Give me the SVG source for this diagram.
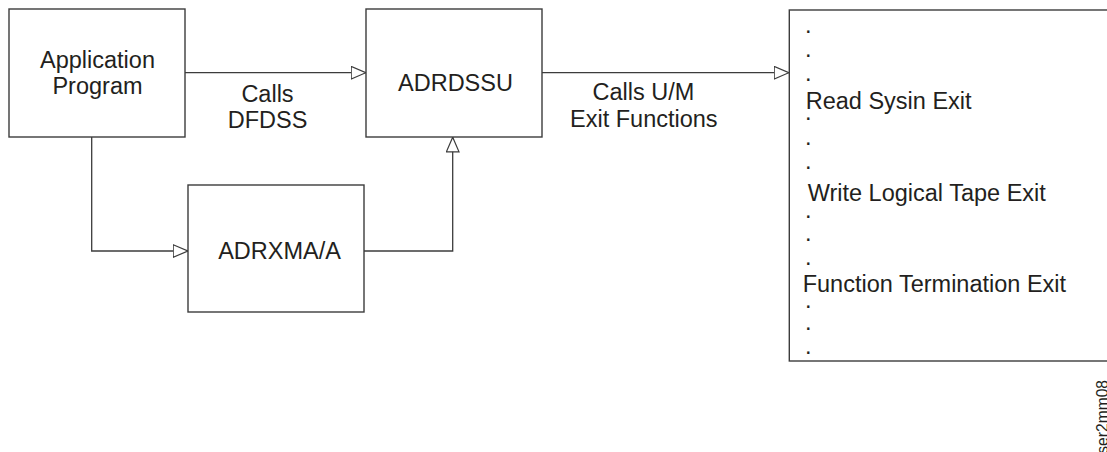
<svg xmlns="http://www.w3.org/2000/svg" width="1107" height="452" viewBox="0 0 1107 452">
<style>
  .box { fill: #ffffff; stroke: #3c3c3c; stroke-width: 1.4; }
  .conn { fill: none; stroke: #3c3c3c; stroke-width: 1.3; }
  .t { font-family: "Liberation Sans", Arial, sans-serif; font-size: 23.5px; fill: #231f20; }
  .c { text-anchor: middle; }
  .id { font-family: "Liberation Sans", Arial, sans-serif; font-size: 15.6px; fill: #231f20; }
</style>
<defs>
  <marker id="open" viewBox="0 0 16 14" refX="15.5" refY="7" markerWidth="16" markerHeight="14" markerUnits="userSpaceOnUse" orient="auto">
    <path d="M0.7,0.7 L15.3,7 L0.7,13.3 Z" fill="#ffffff" stroke="#3c3c3c" stroke-width="1.2"/>
  </marker>
</defs>
<rect width="1107" height="452" fill="#ffffff"/>

<g id="connectors">
  <path class="conn" d="M185,72.7 H366" marker-end="url(#open)"/>
  <path class="conn" d="M542,72.7 H789" marker-end="url(#open)"/>
  <path class="conn" d="M91.7,137 V251 H188" marker-end="url(#open)"/>
  <path class="conn" d="M364,251 H452.7 V137" marker-end="url(#open)"/>
  <text class="t c" x="267.5" y="101.7">Calls</text>
  <text class="t c" x="267.5" y="127.7">DFDSS</text>
  <text class="t c" x="643.5" y="100">Calls U/M</text>
  <text class="t c" x="643.8" y="126.7">Exit Functions</text>
</g>

<g id="application-program">
  <rect class="box" x="9" y="9" width="176" height="128"/>
  <text class="t c" x="97.5" y="68.3">Application</text>
  <text class="t c" x="97.5" y="94.3">Program</text>
</g>

<g id="adrdssu">
  <rect class="box" x="366" y="9" width="176" height="128"/>
  <text class="t c" x="455.5" y="91">ADRDSSU</text>
</g>

<g id="adrxma">
  <rect class="box" x="188" y="185" width="176" height="127"/>
  <text class="t c" x="279.5" y="259.3">ADRXMA/A</text>
</g>

<g id="exit-functions">
  <rect class="box" x="789.3" y="10" width="340" height="351"/>
  <text class="t" x="805" y="33">.</text>
  <text class="t" x="805" y="56.5">.</text>
  <text class="t" x="805" y="80.5">.</text>
  <text class="t" x="805.7" y="109.3">Read Sysin Exit</text>
  <text class="t" x="805" y="120">.</text>
  <text class="t" x="805" y="144.5">.</text>
  <text class="t" x="805" y="168.5">.</text>
  <text class="t" x="807.7" y="201">Write Logical Tape Exit</text>
  <text class="t" x="805" y="217.5">.</text>
  <text class="t" x="805" y="240.5">.</text>
  <text class="t" x="805" y="265.3">.</text>
  <text class="t" x="802.7" y="292.3">Function Termination Exit</text>
  <text class="t" x="805" y="308">.</text>
  <text class="t" x="805" y="330.3">.</text>
  <text class="t" x="805" y="353.6">.</text>
</g>

<text class="id" transform="translate(1108,380) rotate(-90)" text-anchor="end">ser2mm08</text>
</svg>
